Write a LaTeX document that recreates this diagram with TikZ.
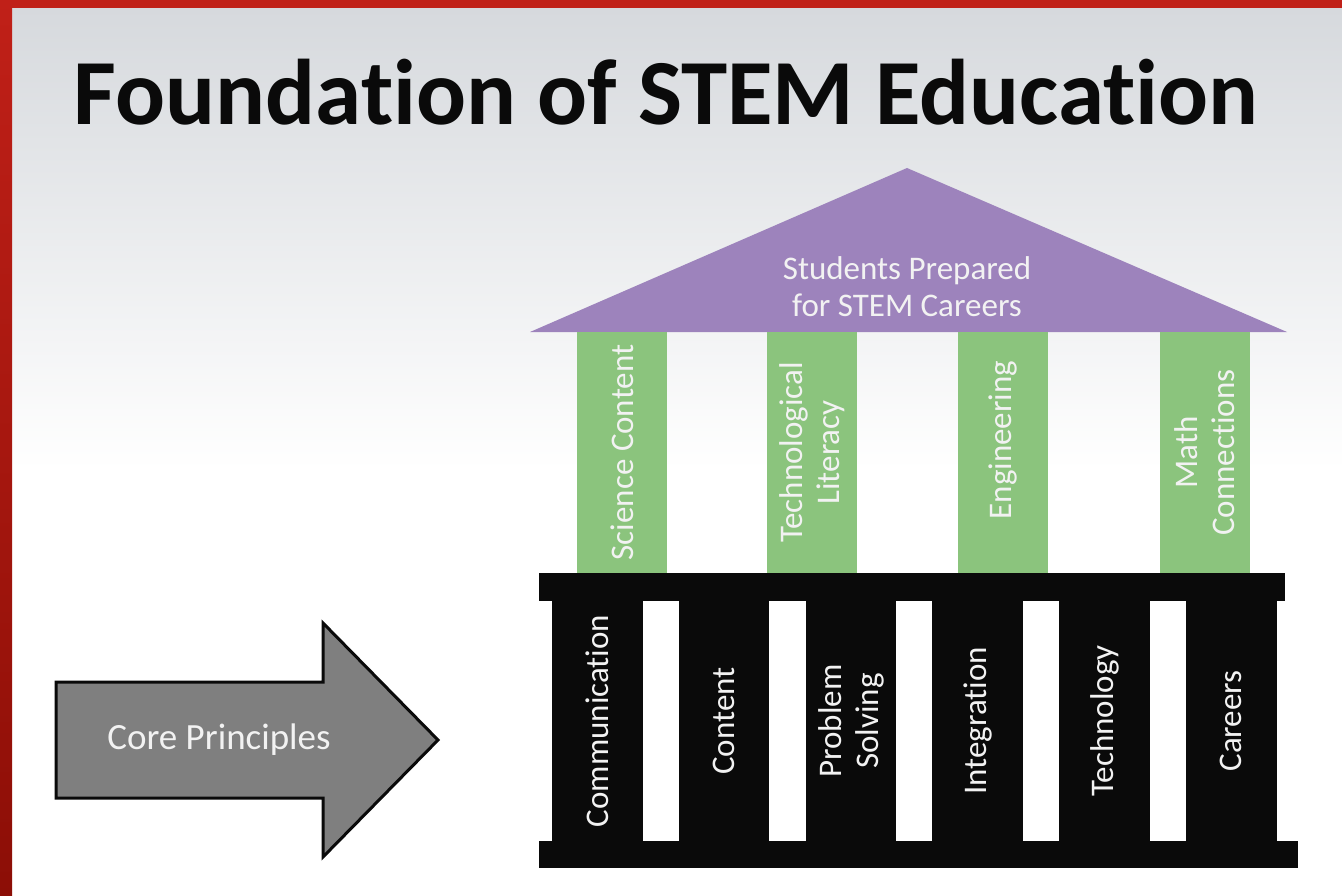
\documentclass[tikz,border=0pt]{standalone}
\usepackage{fontspec}
\setmainfont{Carlito}[Ligatures=NoCommon]
\definecolor{framered}{RGB}{192,32,24}
\definecolor{framereddark}{RGB}{140,14,6}
\definecolor{skygray}{RGB}{214,217,221}
\definecolor{roofpurple}{RGB}{157,131,188}
\definecolor{pillargreen}{RGB}{139,196,125}
\definecolor{basegray}{RGB}{127,127,127}
\definecolor{inkblack}{RGB}{10,10,10}
\definecolor{softwhite}{RGB}{242,242,242}
\tikzset{
  heading/.style={font=\fontsize{93.2}{110}\selectfont\bfseries, text=inkblack, inner sep=0pt},
  label/.style={font=\fontsize{33}{37}\selectfont, text=softwhite, align=center, inner sep=0pt},
  greenpillar/.style={fill=pillargreen, inner sep=0pt, outer sep=0pt, minimum width=90pt, minimum height=241pt},
  blackpillar/.style={fill=inkblack, inner sep=0pt, outer sep=0pt, minimum width=90.5pt, minimum height=240pt},
  beam/.style={fill=inkblack, inner sep=0pt, outer sep=0pt},
}
\begin{document}
\begin{tikzpicture}[x=1pt,y=-1pt]
\useasboundingbox (0,0) rectangle (1342,896);
% backdrop: pale sky fading to white
\fill[white] (0,0) rectangle (1342,896);
\shade[top color=skygray, bottom color=white] (12,8) rectangle (1342,470);
% red frame on the left and top edges
\shade[top color=framered, bottom color=framereddark] (0,0) rectangle (12,896);
\fill[framered] (0,0) rectangle (1342,8);

% title
\node[heading, anchor=base] (title) at (666,125) {Foundation of STEM Education};

% roof
\coordinate (roofL) at (530,332);
\coordinate (roofT) at (907,168);
\coordinate (roofR) at (1287,332);
\fill[roofpurple] (roofL) -- (roofT) -- (roofR) -- cycle;
\node[label] (rooftext) at (907,287) {Students Prepared\\for STEM Careers};

% upper (green) pillars
\node[greenpillar] (g1) at (622,452.5) {};
\node[greenpillar] (g2) at (812,452.5) {};
\node[greenpillar] (g3) at (1002.5,452.5) {};
\node[greenpillar] (g4) at (1205,452.5) {};
\node[label, rotate=90] (g1t) at (g1) {Science Content};
\node[label, rotate=90] (g2t) at (g2) {Technological\\Literacy};
\node[label, rotate=90] (g3t) at (1002.5,440) {Engineering};
\node[label, rotate=90] (g4t) at (g4) {Math\\Connections};

% beams
\node[beam, minimum width=746pt, minimum height=28pt] (topbeam) at (912,587) {};
\node[beam, minimum width=759pt, minimum height=27pt] (basebeam) at (918.5,854.5) {};

% lower (black) pillars
\node[blackpillar] (b1) at (597.3,721) {};
\node[blackpillar] (b2) at (724.1,721) {};
\node[blackpillar] (b3) at (850.9,721) {};
\node[blackpillar] (b4) at (977.7,721) {};
\node[blackpillar] (b5) at (1104.5,721) {};
\node[blackpillar] (b6) at (1231.3,721) {};
\node[label, rotate=90] (b1t) at (b1) {Communication};
\node[label, rotate=90] (b2t) at (b2) {Content};
\node[label, rotate=90] (b3t) at (b3) {Problem\\Solving};
\node[label, rotate=90] (b4t) at (b4) {Integration};
\node[label, rotate=90] (b5t) at (b5) {Technology};
\node[label, rotate=90] (b6t) at (b6) {Careers};

% block arrow pointing at the base
\draw[fill=basegray, draw=inkblack, line width=3pt, line join=miter]
  (56,682) -- (323,682) -- (323,623) -- (438,740) -- (323,857) -- (323,798) -- (56,798) -- cycle;
\node[label, font=\fontsize{37}{42}\selectfont] (core) at (219,740) {Core Principles};
\end{tikzpicture}
\end{document}
